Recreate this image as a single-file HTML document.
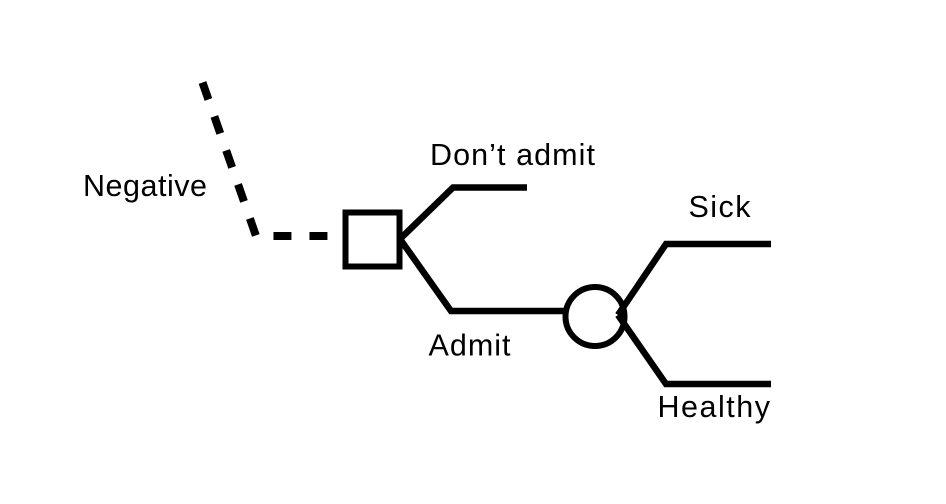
<!DOCTYPE html>
<html>
<head>
<meta charset="utf-8">
<style>
  html, body { margin: 0; padding: 0; background: #ffffff; }
  body { width: 946px; height: 504px; overflow: hidden; }
  svg { display: block; }
  text { font-family: "Liberation Sans", "Helvetica", "Arial", sans-serif; font-size: 30.5px; fill: #000; }
</style>
</head>
<body>
<svg width="946" height="504" viewBox="0 0 946 504" xmlns="http://www.w3.org/2000/svg">
  <rect x="0" y="0" width="946" height="504" fill="#ffffff"/>

  <!-- dashed incoming branch -->
  <path d="M202.5 82.5 L256 236 L328 236" fill="none" stroke="#000" stroke-width="8" stroke-dasharray="18 18" stroke-linecap="butt" stroke-linejoin="miter"/>

  <!-- decision node -->
  <rect x="345.5" y="212.5" width="54" height="54" fill="#fff" stroke="#000" stroke-width="6"/>

  <!-- decision branches -->
  <polyline points="400,239 453,187.5 527,187.5" fill="none" stroke="#000" stroke-width="6.5" stroke-linejoin="miter"/>
  <polyline points="400,239 451,311 565,311" fill="none" stroke="#000" stroke-width="6.5" stroke-linejoin="miter"/>

  <!-- chance node -->
  <circle cx="595" cy="316.5" r="29.5" fill="#fff" stroke="#000" stroke-width="6"/>

  <!-- chance branches -->
  <polyline points="618,315 666,244 771,244" fill="none" stroke="#000" stroke-width="6.5" stroke-linejoin="miter"/>
  <polyline points="618,315 666,384 771,384" fill="none" stroke="#000" stroke-width="6.5" stroke-linejoin="miter"/>

  <!-- labels -->
  <text x="83" y="196" textLength="124" lengthAdjust="spacing">Negative</text>
  <text x="430" y="165" textLength="165" lengthAdjust="spacing">Don’t admit</text>
  <text x="428.5" y="355.5" textLength="82" lengthAdjust="spacing">Admit</text>
  <text x="688.5" y="217" textLength="62" lengthAdjust="spacing">Sick</text>
  <text x="657.5" y="417" textLength="112.5" lengthAdjust="spacing">Healthy</text>
</svg>
</body>
</html>
